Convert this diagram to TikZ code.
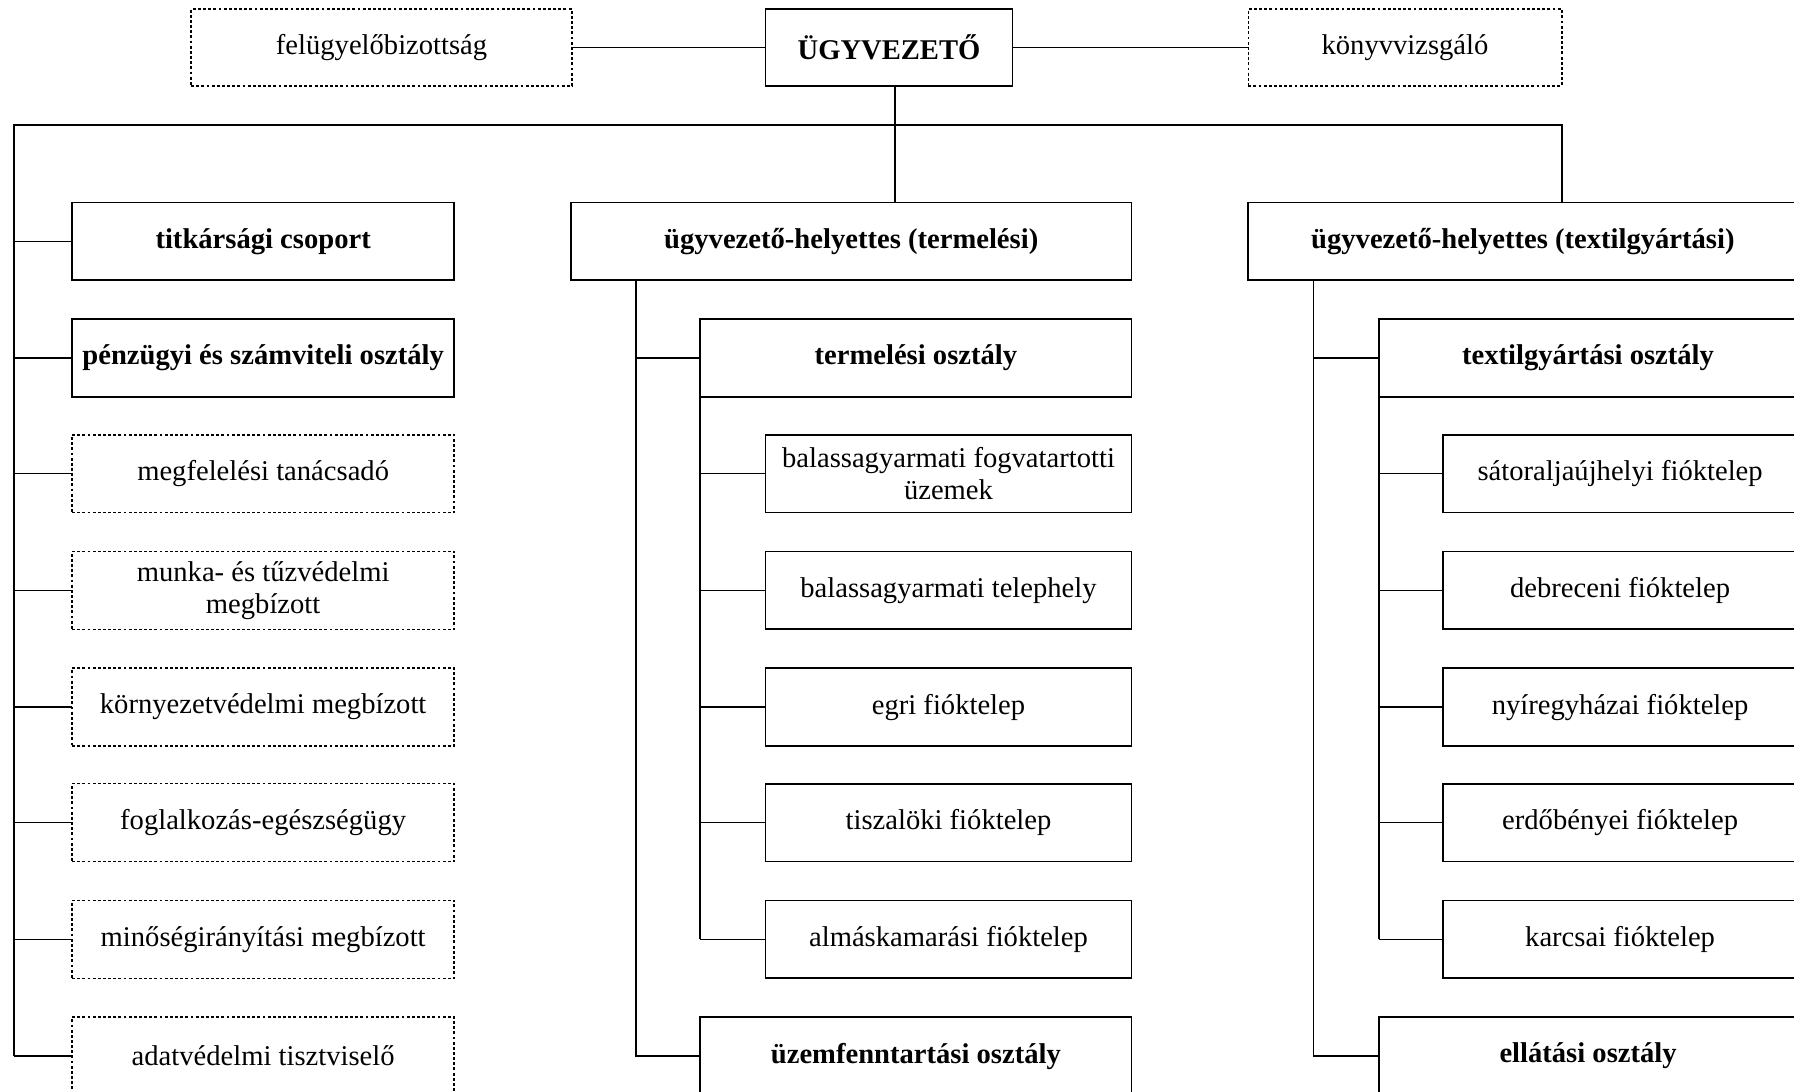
\documentclass[tikz,border=0pt]{standalone}
\usepackage{fontspec}
\setmainfont{Liberation Serif}
\usetikzlibrary{positioning,calc}
\tikzset{
  unitSolid/.style={draw,line width=1.5pt,inner sep=0pt,outer sep=0pt,align=center,
    minimum height=68pt,anchor=north west,font=\fontsize{25}{28}\selectfont},
  unitBold/.style={unitSolid,font=\fontsize{25}{28}\selectfont\bfseries},
  unitDash/.style={unitSolid,line width=1.3pt,dash pattern=on 2.5pt off 2pt},
  link/.style={line width=1.4pt},
}

\begin{document}
\begin{tikzpicture}[x=1pt,y=-1pt]
\clip (0,0) rectangle (1568,954);
% top row
\node[unitDash,minimum width=333pt,minimum height=67pt] (sup) at (167,8) {felügyelőbizottság};
\node[unitBold,minimum width=216pt,minimum height=67pt] (ceo) at (669,8) {ÜGYVEZETŐ};
\node[unitDash,minimum width=274pt,minimum height=67pt] (aud) at (1091,8) {könyvvizsgáló};
% left column
\node[unitBold,minimum width=334pt] (sec)  at (63,177) {titkársági csoport};
\node[unitBold,minimum width=334pt] (fin)  at (63,279) {pénzügyi és számviteli osztály};
\node[unitDash,minimum width=334pt] (comp) at (63,380) {megfelelési tanácsadó};
\node[unitDash,minimum width=334pt] (safe) at (63,482) {munka- és tűzvédelmi\\megbízott};
\node[unitDash,minimum width=334pt] (env)  at (63,584) {környezetvédelmi megbízott};
\node[unitDash,minimum width=334pt] (occ)  at (63,685) {foglalkozás-egészségügy};
\node[unitDash,minimum width=334pt] (qual) at (63,787) {minőségirányítási megbízott};
\node[unitDash,minimum width=334pt] (dpo)  at (63,889) {adatvédelmi tisztviselő};
% middle column
\node[unitBold,minimum width=490pt] (dprod) at (499,177) {ügyvezető-helyettes (termelési)};
\node[unitBold,minimum width=377pt] (prod)  at (612,279) {termelési osztály};
\node[unitSolid,minimum width=320pt] (bgyf)  at (669,380) {balassagyarmati fogvatartotti\\üzemek};
\node[unitSolid,minimum width=320pt] (bgyt)  at (669,482) {balassagyarmati telephely};
\node[unitSolid,minimum width=320pt] (eger)  at (669,584) {egri fióktelep};
\node[unitSolid,minimum width=320pt] (tisza) at (669,685) {tiszalöki fióktelep};
\node[unitSolid,minimum width=320pt] (alm)   at (669,787) {almáskamarási fióktelep};
\node[unitBold,minimum width=377pt] (maint) at (612,889) {üzemfenntartási osztály};
% right column
\node[unitBold,minimum width=480pt] (dtex)   at (1091,177) {ügyvezető-helyettes (textilgyártási)};
\node[unitBold,minimum width=366pt] (tex)    at (1205,279) {textilgyártási osztály};
\node[unitSolid,minimum width=310pt] (sat)    at (1261,380) {sátoraljaújhelyi fióktelep};
\node[unitSolid,minimum width=310pt] (debr)   at (1261,482) {debreceni fióktelep};
\node[unitSolid,minimum width=310pt] (nyir)   at (1261,584) {nyíregyházai fióktelep};
\node[unitSolid,minimum width=310pt] (erdo)   at (1261,685) {erdőbényei fióktelep};
\node[unitSolid,minimum width=310pt] (karc)   at (1261,787) {karcsai fióktelep};
\node[unitBold,minimum width=366pt] (supply) at (1205,889) {ellátási osztály};

% connectors
\coordinate (busL) at (12,109);
\coordinate (busR) at (1365,109);
\coordinate (spineP) at ([xshift=57pt]dprod.south west);
\coordinate (spineT) at ([xshift=57pt]dtex.south west);
\draw[link] (sup) -- (ceo);
\draw[link] (ceo) -- (aud);
\draw[link] ([xshift=5pt]ceo.south) -- ([xshift=5pt]ceo.south |- dprod.north);
\draw[link] (busL |- dpo.west) -- (busL) -- (busR) -- (busR |- dtex.north);
\foreach \n in {sec,fin,comp,safe,env,occ,qual,dpo}
  \draw[link] (busL |- \n.west) -- (\n.west);
\draw[link] (spineP) -- (spineP |- maint.west) -- (maint.west);
\draw[link] (spineP |- prod.west) -- (prod.west);
\draw[link] (prod.south west) -- (prod.south west |- alm.west);
\foreach \n in {bgyf,bgyt,eger,tisza,alm}
  \draw[link] (prod.south west |- \n.west) -- (\n.west);
\draw[link] (spineT) -- (spineT |- supply.west) -- (supply.west);
\draw[link] (spineT |- tex.west) -- (tex.west);
\draw[link] (tex.south west) -- (tex.south west |- karc.west);
\foreach \n in {sat,debr,nyir,erdo,karc}
  \draw[link] (tex.south west |- \n.west) -- (\n.west);
\end{tikzpicture}
\end{document}
